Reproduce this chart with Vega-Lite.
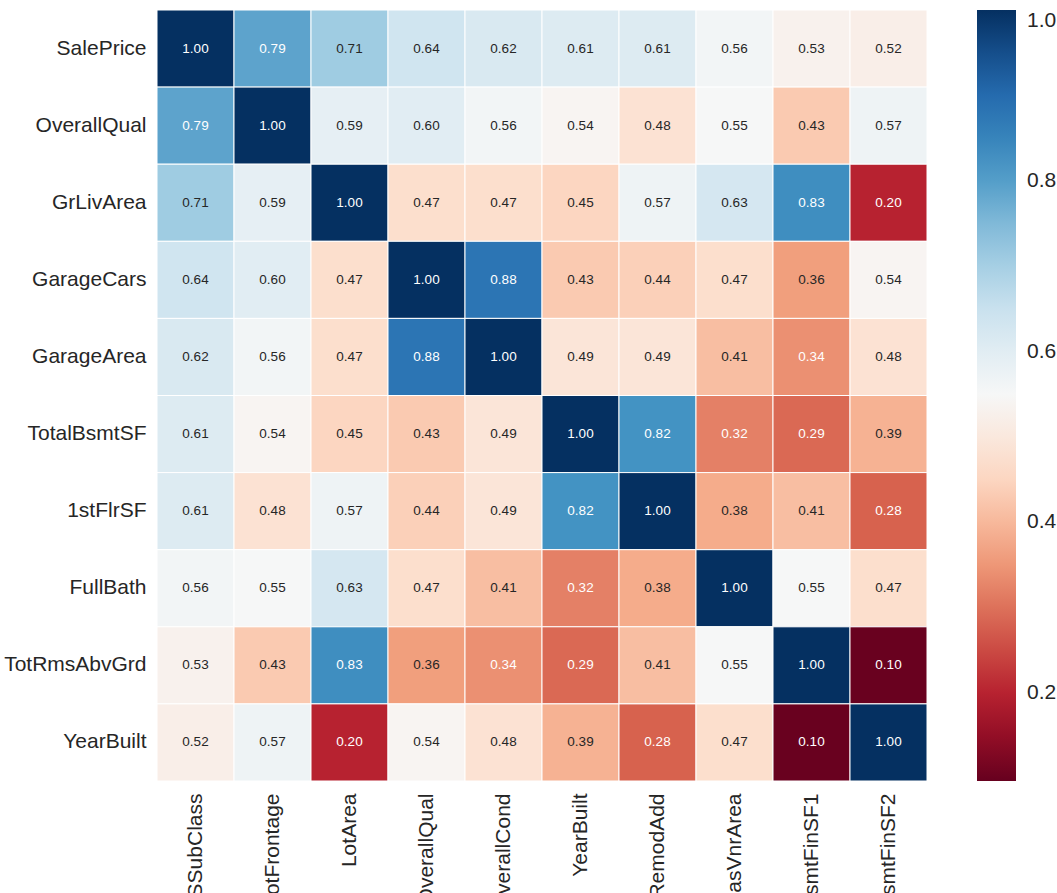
{
  "$schema": "https://vega.github.io/schema/vega-lite/v6.json",
  "autosize": "none",
  "width": 770,
  "height": 771,
  "padding": {"left": 157, "top": 10, "right": 130, "bottom": 112},
  "background": "white",
  "config": {
    "view": {"stroke": null},
    "font": "Liberation Sans",
    "axis": {"labelFont": "Liberation Sans", "labelColor": "#262626", "labelFontSize": 21, "ticks": false, "domain": false, "grid": false, "title": null},
    "legend": {"labelFont": "Liberation Sans", "labelColor": "#262626", "labelFontSize": 21}
  },
  "data": {
    "values": [
      {"row": "SalePrice", "col": "MSSubClass", "v": 1.00},
      {"row": "SalePrice", "col": "LotFrontage", "v": 0.79},
      {"row": "SalePrice", "col": "LotArea", "v": 0.71},
      {"row": "SalePrice", "col": "OverallQual", "v": 0.64},
      {"row": "SalePrice", "col": "OverallCond", "v": 0.62},
      {"row": "SalePrice", "col": "YearBuilt", "v": 0.61},
      {"row": "SalePrice", "col": "YearRemodAdd", "v": 0.61},
      {"row": "SalePrice", "col": "MasVnrArea", "v": 0.56},
      {"row": "SalePrice", "col": "BsmtFinSF1", "v": 0.53},
      {"row": "SalePrice", "col": "BsmtFinSF2", "v": 0.52},
      {"row": "OverallQual", "col": "MSSubClass", "v": 0.79},
      {"row": "OverallQual", "col": "LotFrontage", "v": 1.00},
      {"row": "OverallQual", "col": "LotArea", "v": 0.59},
      {"row": "OverallQual", "col": "OverallQual", "v": 0.60},
      {"row": "OverallQual", "col": "OverallCond", "v": 0.56},
      {"row": "OverallQual", "col": "YearBuilt", "v": 0.54},
      {"row": "OverallQual", "col": "YearRemodAdd", "v": 0.48},
      {"row": "OverallQual", "col": "MasVnrArea", "v": 0.55},
      {"row": "OverallQual", "col": "BsmtFinSF1", "v": 0.43},
      {"row": "OverallQual", "col": "BsmtFinSF2", "v": 0.57},
      {"row": "GrLivArea", "col": "MSSubClass", "v": 0.71},
      {"row": "GrLivArea", "col": "LotFrontage", "v": 0.59},
      {"row": "GrLivArea", "col": "LotArea", "v": 1.00},
      {"row": "GrLivArea", "col": "OverallQual", "v": 0.47},
      {"row": "GrLivArea", "col": "OverallCond", "v": 0.47},
      {"row": "GrLivArea", "col": "YearBuilt", "v": 0.45},
      {"row": "GrLivArea", "col": "YearRemodAdd", "v": 0.57},
      {"row": "GrLivArea", "col": "MasVnrArea", "v": 0.63},
      {"row": "GrLivArea", "col": "BsmtFinSF1", "v": 0.83},
      {"row": "GrLivArea", "col": "BsmtFinSF2", "v": 0.20},
      {"row": "GarageCars", "col": "MSSubClass", "v": 0.64},
      {"row": "GarageCars", "col": "LotFrontage", "v": 0.60},
      {"row": "GarageCars", "col": "LotArea", "v": 0.47},
      {"row": "GarageCars", "col": "OverallQual", "v": 1.00},
      {"row": "GarageCars", "col": "OverallCond", "v": 0.88},
      {"row": "GarageCars", "col": "YearBuilt", "v": 0.43},
      {"row": "GarageCars", "col": "YearRemodAdd", "v": 0.44},
      {"row": "GarageCars", "col": "MasVnrArea", "v": 0.47},
      {"row": "GarageCars", "col": "BsmtFinSF1", "v": 0.36},
      {"row": "GarageCars", "col": "BsmtFinSF2", "v": 0.54},
      {"row": "GarageArea", "col": "MSSubClass", "v": 0.62},
      {"row": "GarageArea", "col": "LotFrontage", "v": 0.56},
      {"row": "GarageArea", "col": "LotArea", "v": 0.47},
      {"row": "GarageArea", "col": "OverallQual", "v": 0.88},
      {"row": "GarageArea", "col": "OverallCond", "v": 1.00},
      {"row": "GarageArea", "col": "YearBuilt", "v": 0.49},
      {"row": "GarageArea", "col": "YearRemodAdd", "v": 0.49},
      {"row": "GarageArea", "col": "MasVnrArea", "v": 0.41},
      {"row": "GarageArea", "col": "BsmtFinSF1", "v": 0.34},
      {"row": "GarageArea", "col": "BsmtFinSF2", "v": 0.48},
      {"row": "TotalBsmtSF", "col": "MSSubClass", "v": 0.61},
      {"row": "TotalBsmtSF", "col": "LotFrontage", "v": 0.54},
      {"row": "TotalBsmtSF", "col": "LotArea", "v": 0.45},
      {"row": "TotalBsmtSF", "col": "OverallQual", "v": 0.43},
      {"row": "TotalBsmtSF", "col": "OverallCond", "v": 0.49},
      {"row": "TotalBsmtSF", "col": "YearBuilt", "v": 1.00},
      {"row": "TotalBsmtSF", "col": "YearRemodAdd", "v": 0.82},
      {"row": "TotalBsmtSF", "col": "MasVnrArea", "v": 0.32},
      {"row": "TotalBsmtSF", "col": "BsmtFinSF1", "v": 0.29},
      {"row": "TotalBsmtSF", "col": "BsmtFinSF2", "v": 0.39},
      {"row": "1stFlrSF", "col": "MSSubClass", "v": 0.61},
      {"row": "1stFlrSF", "col": "LotFrontage", "v": 0.48},
      {"row": "1stFlrSF", "col": "LotArea", "v": 0.57},
      {"row": "1stFlrSF", "col": "OverallQual", "v": 0.44},
      {"row": "1stFlrSF", "col": "OverallCond", "v": 0.49},
      {"row": "1stFlrSF", "col": "YearBuilt", "v": 0.82},
      {"row": "1stFlrSF", "col": "YearRemodAdd", "v": 1.00},
      {"row": "1stFlrSF", "col": "MasVnrArea", "v": 0.38},
      {"row": "1stFlrSF", "col": "BsmtFinSF1", "v": 0.41},
      {"row": "1stFlrSF", "col": "BsmtFinSF2", "v": 0.28},
      {"row": "FullBath", "col": "MSSubClass", "v": 0.56},
      {"row": "FullBath", "col": "LotFrontage", "v": 0.55},
      {"row": "FullBath", "col": "LotArea", "v": 0.63},
      {"row": "FullBath", "col": "OverallQual", "v": 0.47},
      {"row": "FullBath", "col": "OverallCond", "v": 0.41},
      {"row": "FullBath", "col": "YearBuilt", "v": 0.32},
      {"row": "FullBath", "col": "YearRemodAdd", "v": 0.38},
      {"row": "FullBath", "col": "MasVnrArea", "v": 1.00},
      {"row": "FullBath", "col": "BsmtFinSF1", "v": 0.55},
      {"row": "FullBath", "col": "BsmtFinSF2", "v": 0.47},
      {"row": "TotRmsAbvGrd", "col": "MSSubClass", "v": 0.53},
      {"row": "TotRmsAbvGrd", "col": "LotFrontage", "v": 0.43},
      {"row": "TotRmsAbvGrd", "col": "LotArea", "v": 0.83},
      {"row": "TotRmsAbvGrd", "col": "OverallQual", "v": 0.36},
      {"row": "TotRmsAbvGrd", "col": "OverallCond", "v": 0.34},
      {"row": "TotRmsAbvGrd", "col": "YearBuilt", "v": 0.29},
      {"row": "TotRmsAbvGrd", "col": "YearRemodAdd", "v": 0.41},
      {"row": "TotRmsAbvGrd", "col": "MasVnrArea", "v": 0.55},
      {"row": "TotRmsAbvGrd", "col": "BsmtFinSF1", "v": 1.00},
      {"row": "TotRmsAbvGrd", "col": "BsmtFinSF2", "v": 0.10},
      {"row": "YearBuilt", "col": "MSSubClass", "v": 0.52},
      {"row": "YearBuilt", "col": "LotFrontage", "v": 0.57},
      {"row": "YearBuilt", "col": "LotArea", "v": 0.20},
      {"row": "YearBuilt", "col": "OverallQual", "v": 0.54},
      {"row": "YearBuilt", "col": "OverallCond", "v": 0.48},
      {"row": "YearBuilt", "col": "YearBuilt", "v": 0.39},
      {"row": "YearBuilt", "col": "YearRemodAdd", "v": 0.28},
      {"row": "YearBuilt", "col": "MasVnrArea", "v": 0.47},
      {"row": "YearBuilt", "col": "BsmtFinSF1", "v": 0.10},
      {"row": "YearBuilt", "col": "BsmtFinSF2", "v": 1.00}
    ]
  },
  "encoding": {
    "x": {
      "field": "col", "type": "nominal",
      "sort": ["MSSubClass", "LotFrontage", "LotArea", "OverallQual", "OverallCond", "YearBuilt", "YearRemodAdd", "MasVnrArea", "BsmtFinSF1", "BsmtFinSF2"],
      "scale": {"paddingInner": 0, "paddingOuter": 0},
      "axis": {"labelAngle": -90, "labelPadding": 12, "labelAlign": "right", "labelBaseline": "middle"}
    },
    "y": {
      "field": "row", "type": "nominal",
      "sort": ["SalePrice", "OverallQual", "GrLivArea", "GarageCars", "GarageArea", "TotalBsmtSF", "1stFlrSF", "FullBath", "TotRmsAbvGrd", "YearBuilt"],
      "scale": {"paddingInner": 0, "paddingOuter": 0},
      "axis": {"labelPadding": 11}
    }
  },
  "layer": [
    {
      "mark": {"type": "rect", "stroke": "white", "strokeWidth": 1, "opacity": 1, "fillOpacity": 1},
      "encoding": {
        "color": {
          "field": "v", "type": "quantitative",
          "scale": {
            "domain": [0.097, 0.1873, 0.2776, 0.3679, 0.4582, 0.5485, 0.6388, 0.7291, 0.8194, 0.9097, 1.0],
            "range": ["#67001f", "#b2182b", "#d6604d", "#f4a582", "#fddbc7", "#f7f7f7", "#d1e5f0", "#92c5de", "#4393c3", "#2166ac", "#053061"],
            "interpolate": "rgb"
          },
          "legend": {
            "title": null,
            "direction": "vertical",
            "gradientLength": 771,
            "gradientThickness": 39,
            "gradientStrokeWidth": 0,
            "offset": 50,
            "labelOffset": 11,
            "values": [0.2, 0.4, 0.6, 0.8, 1.0],
            "format": ".1f"
          }
        }
      }
    },
    {
      "mark": {"type": "text", "fontSize": 13.5, "font": "Liberation Sans"},
      "encoding": {
        "text": {"field": "v", "type": "quantitative", "format": ".2f"},
        "color": {
          "condition": {"test": "datum.v < 0.35 || datum.v > 0.75", "value": "white"},
          "value": "#262626"
        }
      }
    }
  ]
}
